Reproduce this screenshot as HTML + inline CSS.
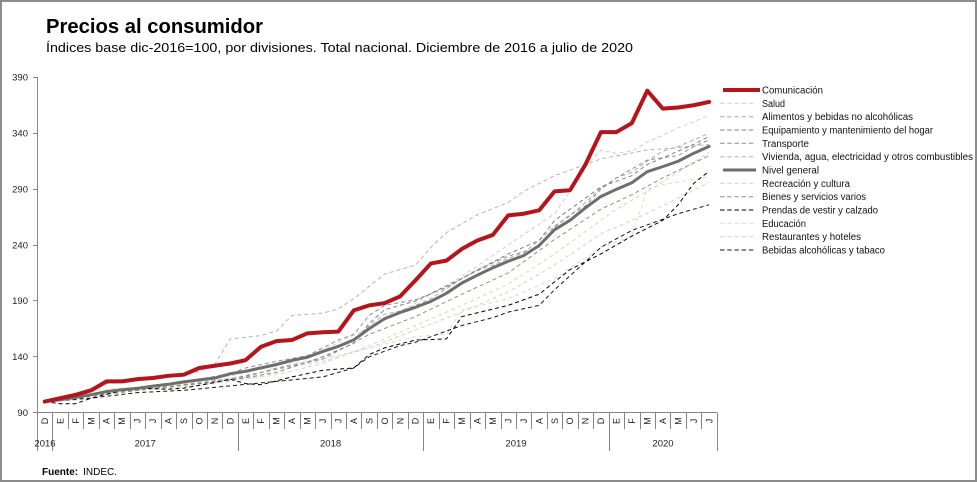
<!DOCTYPE html>
<html>
<head>
<meta charset="utf-8">
<style>
  html,body{margin:0;padding:0;background:#fff;}
  svg{display:block;font-family:"Liberation Sans",sans-serif;}
</style>
</head>
<body>
<svg id="chart" width="977" height="483" viewBox="0 0 977 483" xmlns="http://www.w3.org/2000/svg">
  <rect x="0" y="0" width="977" height="483" fill="#fff"/>
  <rect x="1" y="1" width="975" height="480" fill="none" stroke="#8c8c8c" stroke-width="2"/>

  <!-- Title -->
  <text x="46" y="33" font-size="20" font-weight="bold" fill="#000" textLength="217" lengthAdjust="spacingAndGlyphs">Precios al consumidor</text>
  <text x="46" y="52" font-size="13" fill="#000" textLength="587" lengthAdjust="spacingAndGlyphs">Índices base dic-2016=100, por divisiones. Total nacional. Diciembre de 2016 a julio de 2020</text>

  <!-- Y axis -->
  <g stroke="#868686" stroke-width="1" fill="none">
    <line x1="37.5" y1="77" x2="37.5" y2="413"/>
    <line x1="33" y1="77.5" x2="37.5" y2="77.5"/>
    <line x1="33" y1="133.5" x2="37.5" y2="133.5"/>
    <line x1="33" y1="189.5" x2="37.5" y2="189.5"/>
    <line x1="33" y1="245.5" x2="37.5" y2="245.5"/>
    <line x1="33" y1="300.5" x2="37.5" y2="300.5"/>
    <line x1="33" y1="356.5" x2="37.5" y2="356.5"/>
    <line x1="33" y1="412.5" x2="37.5" y2="412.5"/>
    <line x1="37" y1="412.5" x2="717" y2="412.5"/>
  </g>
  <g font-size="9.5" fill="#222" text-anchor="end">
    <text x="28" y="80.6">390</text>
    <text x="28" y="136.5">340</text>
    <text x="28" y="192.4">290</text>
    <text x="28" y="248.3">240</text>
    <text x="28" y="304.2">190</text>
    <text x="28" y="360.1">140</text>
    <text x="28" y="416">90</text>
  </g>

  <!-- X axis ticks & labels (filled by script for ticks; labels static) -->
  <g id="xticks" stroke="#868686" stroke-width="1"></g>
  <g font-size="9" fill="#222" text-anchor="middle">
    <text transform="translate(44.7,421) rotate(-90)" dy="3.2">D</text>
    <text transform="translate(60.2,421) rotate(-90)" dy="3.2">E</text>
    <text transform="translate(75.6,421) rotate(-90)" dy="3.2">F</text>
    <text transform="translate(91.1,421) rotate(-90)" dy="3.2">M</text>
    <text transform="translate(106.5,421) rotate(-90)" dy="3.2">A</text>
    <text transform="translate(122.0,421) rotate(-90)" dy="3.2">M</text>
    <text transform="translate(137.4,421) rotate(-90)" dy="3.2">J</text>
    <text transform="translate(152.9,421) rotate(-90)" dy="3.2">J</text>
    <text transform="translate(168.3,421) rotate(-90)" dy="3.2">A</text>
    <text transform="translate(183.8,421) rotate(-90)" dy="3.2">S</text>
    <text transform="translate(199.2,421) rotate(-90)" dy="3.2">O</text>
    <text transform="translate(214.7,421) rotate(-90)" dy="3.2">N</text>
    <text transform="translate(230.1,421) rotate(-90)" dy="3.2">D</text>
    <text transform="translate(245.6,421) rotate(-90)" dy="3.2">E</text>
    <text transform="translate(261.0,421) rotate(-90)" dy="3.2">F</text>
    <text transform="translate(276.5,421) rotate(-90)" dy="3.2">M</text>
    <text transform="translate(291.9,421) rotate(-90)" dy="3.2">A</text>
    <text transform="translate(307.4,421) rotate(-90)" dy="3.2">M</text>
    <text transform="translate(322.8,421) rotate(-90)" dy="3.2">J</text>
    <text transform="translate(338.3,421) rotate(-90)" dy="3.2">J</text>
    <text transform="translate(353.7,421) rotate(-90)" dy="3.2">A</text>
    <text transform="translate(369.2,421) rotate(-90)" dy="3.2">S</text>
    <text transform="translate(384.6,421) rotate(-90)" dy="3.2">O</text>
    <text transform="translate(400.1,421) rotate(-90)" dy="3.2">N</text>
    <text transform="translate(415.5,421) rotate(-90)" dy="3.2">D</text>
    <text transform="translate(431.0,421) rotate(-90)" dy="3.2">E</text>
    <text transform="translate(446.4,421) rotate(-90)" dy="3.2">F</text>
    <text transform="translate(461.9,421) rotate(-90)" dy="3.2">M</text>
    <text transform="translate(477.3,421) rotate(-90)" dy="3.2">A</text>
    <text transform="translate(492.8,421) rotate(-90)" dy="3.2">M</text>
    <text transform="translate(508.2,421) rotate(-90)" dy="3.2">J</text>
    <text transform="translate(523.7,421) rotate(-90)" dy="3.2">J</text>
    <text transform="translate(539.1,421) rotate(-90)" dy="3.2">A</text>
    <text transform="translate(554.6,421) rotate(-90)" dy="3.2">S</text>
    <text transform="translate(570.0,421) rotate(-90)" dy="3.2">O</text>
    <text transform="translate(585.5,421) rotate(-90)" dy="3.2">N</text>
    <text transform="translate(600.9,421) rotate(-90)" dy="3.2">D</text>
    <text transform="translate(616.4,421) rotate(-90)" dy="3.2">E</text>
    <text transform="translate(631.8,421) rotate(-90)" dy="3.2">F</text>
    <text transform="translate(647.3,421) rotate(-90)" dy="3.2">M</text>
    <text transform="translate(662.7,421) rotate(-90)" dy="3.2">A</text>
    <text transform="translate(678.2,421) rotate(-90)" dy="3.2">M</text>
    <text transform="translate(693.6,421) rotate(-90)" dy="3.2">J</text>
    <text transform="translate(709.1,421) rotate(-90)" dy="3.2">J</text>
  </g>
  <g font-size="9.5" fill="#222" text-anchor="middle">
    <text x="45" y="446.5">2016</text>
    <text x="145.2" y="446.5">2017</text>
    <text x="330.6" y="446.5">2018</text>
    <text x="516" y="446.5">2019</text>
    <text x="663" y="446.5">2020</text>
  </g>

  <!-- Series -->
  <g id="series" fill="none" stroke-linejoin="round"></g>

  <!-- Legend -->
  <g fill="none">
    <line x1="723" y1="90" x2="760" y2="90" stroke="#b3151b" stroke-width="4"/>
    <line x1="720" y1="103.3" x2="756" y2="103.3" stroke="#cfcfcf" stroke-width="1" stroke-dasharray="4.5 2.7"/>
    <line x1="720" y1="116.7" x2="756" y2="116.7" stroke="#a9a9a9" stroke-width="1" stroke-dasharray="4.5 2.7"/>
    <line x1="720" y1="130" x2="756" y2="130" stroke="#808080" stroke-width="1" stroke-dasharray="4.5 2.7"/>
    <line x1="720" y1="143.3" x2="756" y2="143.3" stroke="#8e8e8e" stroke-width="1" stroke-dasharray="4.5 2.7"/>
    <line x1="720" y1="156.7" x2="756" y2="156.7" stroke="#b4b4b4" stroke-width="1" stroke-dasharray="4.5 2.7"/>
    <line x1="723" y1="170" x2="756" y2="170" stroke="#6e6e6e" stroke-width="3"/>
    <line x1="720" y1="183.3" x2="756" y2="183.3" stroke="#dcd4c4" stroke-width="1" stroke-dasharray="4.5 2.7"/>
    <line x1="720" y1="196.7" x2="756" y2="196.7" stroke="#968f7e" stroke-width="1" stroke-dasharray="4.5 2.7"/>
    <line x1="720" y1="210" x2="756" y2="210" stroke="#000" stroke-width="1" stroke-dasharray="4.5 2.7"/>
    <line x1="720" y1="223.3" x2="756" y2="223.3" stroke="#e2dacd" stroke-width="1" stroke-dasharray="4.5 2.7"/>
    <line x1="720" y1="236.7" x2="756" y2="236.7" stroke="#d8d2c9" stroke-width="1" stroke-dasharray="4.5 2.7"/>
    <line x1="720" y1="250" x2="756" y2="250" stroke="#1a1a1a" stroke-width="1" stroke-dasharray="4.5 2.7"/>
  </g>
  <g font-size="10" fill="#111">
    <text x="762" y="93.5" textLength="61" lengthAdjust="spacingAndGlyphs">Comunicación</text>
    <text x="762" y="106.8" textLength="23" lengthAdjust="spacingAndGlyphs">Salud</text>
    <text x="762" y="120.2" textLength="151" lengthAdjust="spacingAndGlyphs">Alimentos y bebidas no alcohólicas</text>
    <text x="762" y="133.5" textLength="171" lengthAdjust="spacingAndGlyphs">Equipamiento y mantenimiento del hogar</text>
    <text x="762" y="146.8" textLength="47" lengthAdjust="spacingAndGlyphs">Transporte</text>
    <text x="762" y="160.2" textLength="211" lengthAdjust="spacingAndGlyphs">Vivienda, agua, electricidad y otros combustibles</text>
    <text x="762" y="173.5" textLength="57" lengthAdjust="spacingAndGlyphs">Nivel general</text>
    <text x="762" y="186.8" textLength="88" lengthAdjust="spacingAndGlyphs">Recreación y cultura</text>
    <text x="762" y="200.2" textLength="104" lengthAdjust="spacingAndGlyphs">Bienes y servicios varios</text>
    <text x="762" y="213.5" textLength="116" lengthAdjust="spacingAndGlyphs">Prendas de vestir y calzado</text>
    <text x="762" y="226.8" textLength="44" lengthAdjust="spacingAndGlyphs">Educación</text>
    <text x="762" y="240.2" textLength="99" lengthAdjust="spacingAndGlyphs">Restaurantes y hoteles</text>
    <text x="762" y="253.5" textLength="123" lengthAdjust="spacingAndGlyphs">Bebidas alcohólicas y tabaco</text>
  </g>

  <!-- Source -->
  <text x="42" y="475" font-size="10" fill="#000"><tspan font-weight="bold">Fuente:</tspan><tspan dx="5">INDEC.</tspan></text>
</svg>

<script>
(function(){
  var NS = "http://www.w3.org/2000/svg";
  function X(i){ return 44.725 + 15.45*i; }
  function Y(v){ return 412.7 - (v-90)*1.118; }

  // x ticks
  var xt = document.getElementById('xticks');
  var big = {0:1,1:1,13:1,25:1,37:1,44:1};
  for (var k=0;k<=44;k++){
    var xx = Math.round(37 + 15.45*k) + 0.5;
    var l = document.createElementNS(NS,'line');
    l.setAttribute('x1',xx); l.setAttribute('x2',xx);
    l.setAttribute('y1',412.5); l.setAttribute('y2', big[k] ? 451 : 429);
    xt.appendChild(l);
  }

  var S = [
    // Salud
    {c:'#cfcfcf', w:1, d:true, p:[[0,100],[3,106],[6,112],[9,117],[12,123],[15,132],[18,146],[21,166],[24,188],[27,212],[30,240],[33,268],[34,288],[35,310],[36,325],[37,322],[38,324],[39,332],[40,338],[41,345],[42,350],[43,356]]},
    // Restaurantes
    {c:'#d8d2c9', w:1, d:true, p:[[0,100],[6,111],[12,121],[18,136],[21,148],[24,164],[27,180],[30,198],[33,222],[36,250],[38,262],[40,275],[43,296]]},
    // Educacion
    {c:'#e2dacd', w:1, d:true, p:[[0,100],[2,101],[3,110],[6,113],[12,121],[14,122],[15,133],[18,138],[24,158],[26,160],[27,182],[30,192],[33,210],[36,238],[38,248],[39,290],[40,294],[43,301]]},
    // Recreacion
    {c:'#dcd4c4', w:1, d:true, p:[[0,100],[3,104],[6,110],[9,113],[12,118],[15,124],[18,134],[21,150],[24,168],[27,186],[30,205],[33,232],[36,262],[37,272],[39,288],[41,305],[43,323]]},
    // Vivienda
    {c:'#b4b4b4', w:1, d:true, p:[[0,100],[1,102],[2,107],[3,109],[4,116],[9,124],[10,127],[11,133],[12,156],[14,159],[15,163],[16,177],[18,179],[19,183],[20,192],[22,214],[24,222],[25,238],[26,251],[28,267],[30,278],[31,288],[33,302],[36,317],[39,325],[41,327],[43,330]]},
    // Alimentos
    {c:'#a9a9a9', w:1, d:true, p:[[0,100],[1,101.5],[2,103],[3,106],[4,108],[5,109],[6,110.5],[7,112],[8,113],[9,115],[10,116.5],[11,118],[12,120],[13,122],[14,126],[15,130],[16,133],[17,135],[18,140],[19,146],[20,152],[21,168],[22,178],[23,181],[24,186],[25,192],[26,201],[27,210],[28,217],[29,222],[30,228],[31,233],[32,244],[33,257],[34,266],[35,278],[36,291],[37,300],[38,305],[39,315],[40,324],[41,328],[42,334],[43,340]]},
    // Transporte
    {c:'#8e8e8e', w:1, d:true, p:[[0,100],[2,102],[4,108],[6,111],[8,116],[10,120],[12,125],[13,130],[15,136],[17,141],[18,148],[19,155],[20,160],[21,177],[22,186],[24,191],[26,202],[27,210],[28,218],[30,230],[32,238],[33,256],[34,267],[35,275],[36,290],[37,300],[39,316],[40,318],[41,320],[42,328],[43,334]]},
    // Equipamiento
    {c:'#808080', w:1, d:true, p:[[0,100],[6,110],[12,119],[15,126],[18,140],[20,152],[21,170],[22,182],[24,190],[27,210],[30,232],[32,244],[33,262],[35,282],[36,292],[38,302],[39,312],[40,318],[42,330],[43,337]]},
    // Bienes varios
    {c:'#968f7e', w:1, d:true, p:[[0,100],[6,110],[12,120],[18,138],[21,160],[24,176],[27,196],[30,215],[33,245],[36,272],[38,285],[40,300],[43,320]]},
    // Bebidas
    {c:'#1a1a1a', w:1, d:true, p:[[0,100],[3,103],[6,108],[9,110],[12,114],[15,118],[18,122],[19,126],[20,130],[21,140],[23,150],[24,153],[27,168],[29,175],[30,180],[32,186],[33,200],[35,225],[36,238],[38,253],[40,263],[41,268],[43,276]]},
    // Prendas
    {c:'#000000', w:1, d:true, p:[[0,100],[1,98],[2,98],[3,103],[5,110],[6,112],[8,111],[9,112],[11,117],[12,120],[13,116],[14,115],[16,122],[17,125],[18,128],[20,130],[21,142],[22,148],[24,155],[26,156],[27,176],[30,186],[32,196],[34,218],[36,232],[38,248],[40,262],[41,276],[42,295],[43,306]]},
    // Nivel general
    {c:'#6e6e6e', w:3, d:false, p:[[0,100],[1,101.6],[2,103.7],[3,106.1],[4,108.9],[5,110.5],[6,111.8],[7,113.8],[8,115.4],[9,117.6],[10,119.4],[11,121],[12,124.8],[13,127],[14,130.1],[15,133.1],[16,136.8],[17,139.6],[18,144.8],[19,149.3],[20,155.1],[21,165.2],[22,174.1],[23,179.6],[24,184.3],[25,189.6],[26,196.8],[27,206],[28,213],[29,219.6],[30,225.5],[31,230.5],[32,239.6],[33,253.7],[34,262.1],[35,273.2],[36,283.4],[37,289.8],[38,295.7],[39,305.6],[40,310.1],[41,314.9],[42,322],[43,328.2]]},
    // Comunicacion
    {c:'#b3151b', w:4, d:false, p:[[0,100],[1,103],[2,106],[3,110],[4,118],[5,118],[6,120],[7,121],[8,123],[9,124],[10,130],[11,132],[12,134],[13,137],[14,149],[15,154],[16,155],[17,161],[18,162],[19,162.5],[20,181.5],[21,186],[22,188],[23,194],[24,208.5],[25,223.5],[26,226],[27,236.5],[28,244],[29,249],[30,266.5],[31,268],[32,271],[33,288],[34,289],[35,312],[36,341],[37,341],[38,349],[39,378],[40,362],[41,363],[42,365],[43,368]]}
  ];

  var g = document.getElementById('series');
  S.forEach(function(s){
    var pl = document.createElementNS(NS,'polyline');
    pl.setAttribute('points', s.p.map(function(q){ return X(q[0]).toFixed(2)+','+Y(q[1]).toFixed(2); }).join(' '));
    pl.setAttribute('stroke', s.c);
    pl.setAttribute('stroke-width', s.w);
    if (s.d) pl.setAttribute('stroke-dasharray','4 3');
    else pl.setAttribute('stroke-linecap','round');
    g.appendChild(pl);
  });
})();
</script>
</body>
</html>
